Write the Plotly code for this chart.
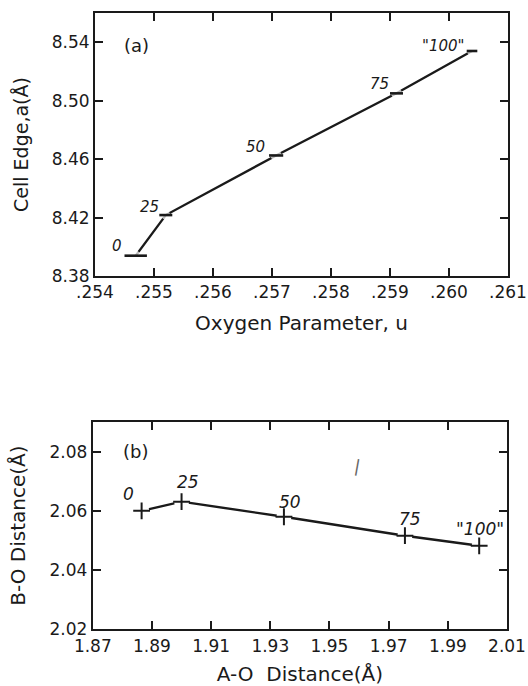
import plotly.graph_objects as go

# ---- data (a) ----
u_param = [0.25469, 0.25520, 0.25707, 0.25911, 0.26039]
cell_edge = [8.3939, 8.4217, 8.4625, 8.5050, 8.5340]
labels = ["0", "25", "50", "75", "\"100\""]

# ---- data (b) ----
ao_dist = [1.8865, 1.9000, 1.9346, 1.9755, 2.0006]
bo_dist = [2.0600, 2.0631, 2.0580, 2.0516, 2.0482]

# ---- ticks ----
xa_ticks = [0.254, 0.255, 0.256, 0.257, 0.258, 0.259, 0.260, 0.261]
xa_text = [".254", ".255", ".256", ".257", ".258", ".259", ".260", ".261"]
ya_ticks = [8.38, 8.42, 8.46, 8.50, 8.54]
ya_text = ["8.38", "8.42", "8.46", "8.50", "8.54"]
xb_ticks = [1.87, 1.89, 1.91, 1.93, 1.95, 1.97, 1.99, 2.01]
xb_text = ["1.87", "1.89", "1.91", "1.93", "1.95", "1.97", "1.99", "2.01"]
yb_ticks = [2.02, 2.04, 2.06, 2.08]
yb_text = ["2.02", "2.04", "2.06", "2.08"]

INK = "#1a1a1a"
FONT = "DejaVu Sans"
W, H = 528, 686

fig = go.Figure()

# (a) line, gaps, horizontal dash marks (drawn as capless horizontal bars)
fig.add_trace(go.Scatter(x=u_param, y=cell_edge, mode="lines",
                         line=dict(color=INK, width=2.3), xaxis="x", yaxis="y",
                         showlegend=False, hoverinfo="skip"))
fig.add_trace(go.Scatter(x=u_param, y=cell_edge, mode="markers",
                         marker=dict(symbol="circle", size=[10, 9, 11, 11, 10], color="white",
                                     line=dict(width=0)),
                         xaxis="x", yaxis="y", showlegend=False, hoverinfo="skip"))
fig.add_trace(go.Scatter(x=u_param, y=cell_edge, mode="markers",
                         marker=dict(size=1, color="rgba(0,0,0,0)", line=dict(width=0)),
                         error_x=dict(type="data", symmetric=True,
                                      array=[0.00019, 0.00011, 0.00012, 0.00011, 0.00009],
                                      width=0, thickness=2.6, color=INK),
                         xaxis="x", yaxis="y", showlegend=False, hoverinfo="skip"))

# (b) line, gaps, plus markers
fig.add_trace(go.Scatter(x=ao_dist, y=bo_dist, mode="lines",
                         line=dict(color=INK, width=2.4), xaxis="x2", yaxis="y2",
                         showlegend=False, hoverinfo="skip"))
fig.add_trace(go.Scatter(x=ao_dist, y=bo_dist, mode="markers",
                         marker=dict(symbol="circle", size=15, color="white", line=dict(width=0)),
                         xaxis="x2", yaxis="y2", showlegend=False, hoverinfo="skip"))
fig.add_trace(go.Scatter(x=ao_dist, y=bo_dist, mode="markers",
                         marker=dict(symbol="cross-thin", size=12, color=INK,
                                     line=dict(color=INK, width=2)),
                         xaxis="x2", yaxis="y2", showlegend=False, hoverinfo="skip"))

ann = []
shifts_a = [(-19, 10), (-16, 8), (-21, 8), (-17, 9), (-29, 5)]
for xv, yv, t, (dx, dy) in zip(u_param, cell_edge, labels, shifts_a):
    ann.append(dict(x=xv, y=yv, xref="x", yref="y", text="<i>" + t + "</i>", showarrow=False,
                    xshift=dx, yshift=dy, font=dict(family=FONT, size=15, color=INK)))
shifts_b = [(-13, 17), (6, 20), (6, 15), (5, 17), (1, 17)]
for xv, yv, t, (dx, dy) in zip(ao_dist, bo_dist, labels, shifts_b):
    ann.append(dict(x=xv, y=yv, xref="x2", yref="y2", text="<i>" + t + "</i>", showarrow=False,
                    xshift=dx, yshift=dy, font=dict(family=FONT, size=17, color=INK)))

ann.append(dict(x=0.25471, y=8.538, xref="x", yref="y", text="(a)", showarrow=False,
                font=dict(family=FONT, size=18, color=INK)))
ann.append(dict(x=1.8843, y=2.0799, xref="x2", yref="y2", text="(b)", showarrow=False,
                font=dict(family=FONT, size=18, color=INK)))
ann.append(dict(x=1.9596, y=2.0752, xref="x2", yref="y2", text="|", showarrow=False,
                textangle=10, font=dict(family="Liberation Sans", size=18, color="#666666")))

axis_common = dict(showline=True, linewidth=2, linecolor=INK, mirror="ticks",
                   ticks="inside", ticklen=8, tickwidth=1.5, tickcolor=INK,
                   showgrid=False, zeroline=False, automargin=False,
                   tickfont=dict(family=FONT, size=17, color=INK))

fig.update_layout(
    width=W, height=H,
    margin=dict(l=0, r=0, t=0, b=0),
    paper_bgcolor="white", plot_bgcolor="white",
    xaxis=dict(axis_common, domain=[95 / W, 508 / W], range=[0.254, 0.261],
               tickmode="array", tickvals=xa_ticks, ticktext=xa_text, anchor="y",
               title=dict(text="Oxygen Parameter, u", standoff=15,
                          font=dict(family=FONT, size=20, color=INK))),
    yaxis=dict(axis_common, domain=[1 - 276 / H, 1 - 13 / H], range=[8.38, 8.56],
               tickmode="array", tickvals=ya_ticks, ticktext=ya_text, anchor="x",
               title=dict(text="Cell Edge,a(Å)", standoff=18,
                          font=dict(family=FONT, size=19, color=INK))),
    xaxis2=dict(axis_common, domain=[92.8 / W, 507 / W], range=[1.87, 2.01],
                tickmode="array", tickvals=xb_ticks, ticktext=xb_text, anchor="y2",
                title=dict(text="A-O  Distance(Å)", standoff=13,
                           font=dict(family=FONT, size=20, color=INK))),
    yaxis2=dict(axis_common, domain=[1 - 629.3 / H, 1 - 422 / H], range=[2.02, 2.09],
                tickmode="array", tickvals=yb_ticks, ticktext=yb_text, anchor="x2",
                title=dict(text="B-O Distance(Å)", standoff=19,
                           font=dict(family=FONT, size=20, color=INK))),
    annotations=ann,
)

fig.write_html("out.html", config={"displayModeBar": False},
               post_script="document.body.style.margin='0';")
